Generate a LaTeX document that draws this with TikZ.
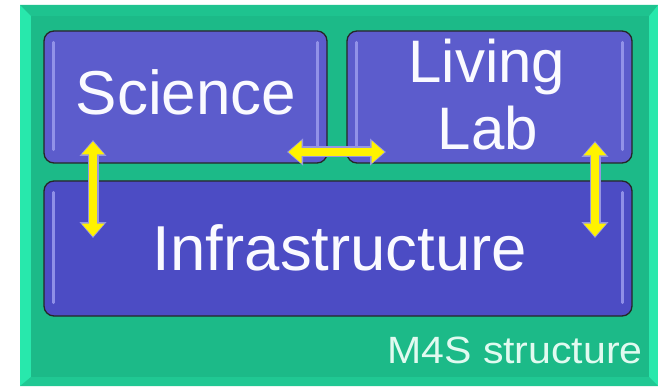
\documentclass[tikz,border=0pt]{standalone}
\usepackage{fontspec}
\setmainfont{Liberation Sans}
\usetikzlibrary{arrows.meta}
\definecolor{greenlite}{RGB}{40,232,172}
\definecolor{greenmain}{RGB}{28,186,136}
\definecolor{boxtop}{RGB}{92,92,204}
\definecolor{boxinf}{RGB}{76,76,196}
\definecolor{hilite}{RGB}{160,160,240}
\definecolor{arrline}{RGB}{150,150,225}
\definecolor{txt}{RGB}{250,250,255}
\definecolor{labtxt}{RGB}{225,250,240}
\tikzset{
  blockbox/.style={draw=black!85, line width=1.3pt, rounded corners=10pt, inner sep=0pt},
  hl/.style={hilite, line width=3pt, line cap=round, opacity=0.8},
  arrout/.style={arrline, line width=11pt, {Triangle[width=26pt,length=16pt]}-{Triangle[width=26pt,length=16pt]}},
  arrin/.style={yellow, line width=8pt, shorten >=1.5pt, shorten <=1.5pt, {Triangle[width=22pt,length=13pt]}-{Triangle[width=22pt,length=13pt]}},
  bigtext/.style={text=txt, anchor=base, inner sep=0pt}
}
\begin{document}
\begin{tikzpicture}[x=1pt,y=1pt]
\useasboundingbox (0,0) rectangle (658,386);
\fill[white] (0,0) rectangle (658,386);
% outer green frame with bevel
\fill[greenlite] (20,0) rectangle (658,381);
\fill[greenmain!70!greenlite] (20,0) -- (31,9) -- (649,9) -- (658,0) -- cycle;
\fill[greenmain] (31,9) rectangle (649,370);
\fill[greenmain!80!greenlite] (20,381) -- (31,370) -- (649,370) -- (658,381) -- cycle;
% boxes
\node[blockbox, fill=boxtop, minimum width=283pt, minimum height=132pt] (sci) at (185.5,289) {};
\node[blockbox, fill=boxtop, minimum width=285pt, minimum height=132pt] (liv) at (489.5,289) {};
\node[blockbox, fill=boxinf, minimum width=588pt, minimum height=135pt] (inf) at (338,137.5) {};
% highlights
\draw[hl] ([shift={(10,-12)}]sci.north west) -- ([shift={(10,14)}]sci.south west);
\draw[hl] ([shift={(-10,-12)}]sci.north east) -- ([shift={(-10,14)}]sci.south east);
\draw[hl] ([shift={(10,-12)}]liv.north west) -- ([shift={(10,14)}]liv.south west);
\draw[hl] ([shift={(-10,-12)}]liv.north east) -- ([shift={(-10,14)}]liv.south east);
\draw[hl] ([shift={(10,-12)}]inf.north west) -- ([shift={(10,14)}]inf.south west);
\draw[hl] ([shift={(-10,-12)}]inf.north east) -- ([shift={(-10,14)}]inf.south east);
% texts
\node[bigtext] (scit) at (186,271) {\fontsize{62}{62}\selectfont Science};
\node[bigtext] (livt) at (487,303) {\fontsize{60}{60}\selectfont Living};
\node[bigtext] (labt) at (488,236) {\fontsize{60}{60}\selectfont Lab};
\node[bigtext] (inft) at (340,116) {\fontsize{63.5}{63.5}\selectfont Infrastructure};
\node[text=labtxt, anchor=base, inner sep=0pt, xscale=1.08] (m4s) at (515,23) {\fontsize{38}{38}\selectfont M4S structure};
% arrow end points
\coordinate (l1) at (93,246);
\coordinate (l2) at (93,148);
\coordinate (h1) at (287,234);
\coordinate (h2) at (386,234);
\coordinate (r1) at (595,245);
\coordinate (r2) at (595,148);
\draw[arrout] (l1) -- (l2);
\draw[arrin] (l1) -- (l2);
\draw[arrout] (h1) -- (h2);
\draw[arrin] (h1) -- (h2);
\draw[arrout] (r1) -- (r2);
\draw[arrin] (r1) -- (r2);
\end{tikzpicture}
\end{document}
